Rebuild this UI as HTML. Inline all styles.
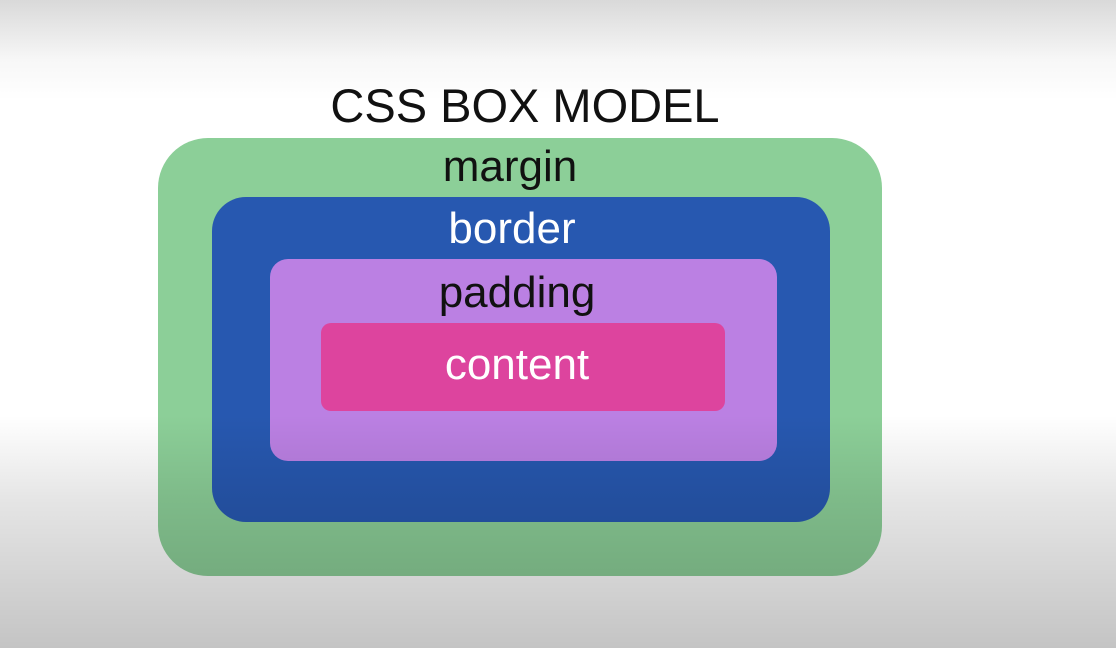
<!DOCTYPE html>
<html><head><style>
body{margin:0;width:1116px;height:648px;overflow:hidden;position:relative;font-family:"Liberation Sans",sans-serif;
background:linear-gradient(to bottom,#d9d9d9 0px,#f7f7f7 60px,#fff 100px,#fff 648px);}
.b{position:absolute;box-sizing:border-box}
.t{position:absolute;left:0;width:100%;text-align:center;font-size:44px;line-height:1}
#ov{position:absolute;left:0;top:0;width:1116px;height:648px;background:linear-gradient(to bottom,rgba(0,0,0,0) 0px,rgba(0,0,0,0) 415px,rgba(0,0,0,0.1) 500px,rgba(0,0,0,0.23) 648px);pointer-events:none}
</style></head><body>
<div class="b" style="left:158px;top:138px;width:724px;height:438px;border-radius:50px;background:#8ccf98"></div>
<div class="b" style="left:212px;top:197px;width:618px;height:325px;border-radius:34px;background:#2758b0"></div>
<div class="b" style="left:270px;top:259px;width:507px;height:202px;border-radius:18px;background:#bb80e3"></div>
<div class="b" style="left:321px;top:323px;width:404px;height:88px;border-radius:10px;background:#dd449e"></div>
<div id="ov"></div>
<div class="t" style="top:82px;left:0;width:1050px;font-size:47px;color:#111">CSS BOX MODEL</div>
<div class="t" style="top:145px;left:0;width:1020px;color:#111">margin</div>
<div class="t" style="top:207px;left:0;width:1024px;color:#fff">border</div>
<div class="t" style="top:271px;left:0;width:1034px;color:#111">padding</div>
<div class="t" style="top:343px;left:0;width:1034px;color:#fff">content</div>
</body></html>
